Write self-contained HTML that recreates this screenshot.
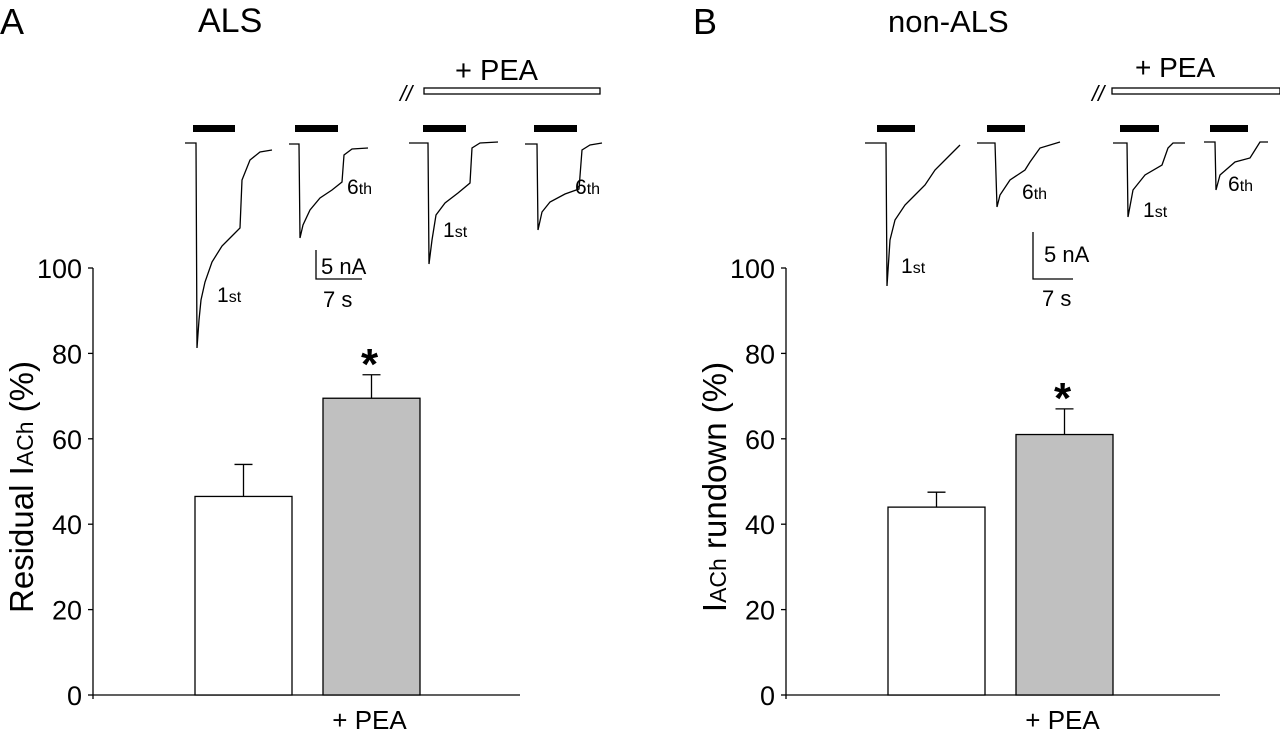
<!DOCTYPE html>
<html><head><meta charset="utf-8"><style>
body{margin:0;background:#fff}
svg{display:block;font-family:"Liberation Sans",Arial,sans-serif}
</style></head><body>
<svg id="fig" width="1280" height="731" viewBox="0 0 1280 731">
<g fill="#000">
<text x="0" y="34" font-size="36">A</text>
<text x="198" y="32" font-size="34">ALS</text>
<text x="693" y="34" font-size="36">B</text>
<text x="888" y="32" font-size="31">non-ALS</text>
</g>
<g id="traces" fill="none" stroke="#000" stroke-width="1.3">
<polyline points="185,143 196,143 197,348 199,320 201,300 205,282 212,262 222,246 232,236 240,228 242,180 250,160 260,152 272,150"/>
<polyline points="289,144 299,144 300,238 303,225 310,210 320,198 332,190 342,182 344,155 352,149 368,148"/>
<polyline points="409,143 428,143 429,264 432,240 436,215 445,203 458,193 470,183 472,148 480,143 498,142"/>
<polyline points="525,144 537,144 538,230 542,212 550,202 565,194 579,189 582,150 590,145 602,143"/>
<polyline points="865,143 886,143 887,286 890,240 895,220 905,205 915,195 925,185 935,170 950,155 960,145"/>
<polyline points="977,143 995,143 997,207 1000,195 1010,180 1025,170 1030,162 1040,148 1060,142"/>
<polyline points="1113,143 1127,143 1128,217 1133,190 1145,175 1162,165 1168,148 1173,143 1185,143"/>
<polyline points="1204,142 1215,142 1216,190 1220,175 1235,162 1250,158 1255,150 1260,142 1268,142"/>
<polyline points="316,250 316,279 362,279"/>
<polyline points="1033,232 1033,279 1073,279"/>
<rect x="424" y="88" width="176" height="6"/>
<rect x="1112" y="88" width="168" height="6"/>
</g>
<g fill="#000">
<rect x="193" y="125" width="42" height="7"/><rect x="295" y="125" width="43" height="7"/>
<rect x="423" y="125" width="43" height="7"/><rect x="534" y="125" width="43" height="7"/>
<rect x="877" y="125" width="38" height="7"/><rect x="987" y="125" width="38" height="7"/>
<rect x="1120" y="125" width="39" height="7"/><rect x="1210" y="125" width="38" height="7"/>
</g>
<g fill="#000" font-size="21">
<text x="400" y="101" font-size="22" font-style="italic">//</text>
<text x="1092" y="101" font-size="22" font-style="italic">//</text>
<text x="455" y="80" font-size="29">+ PEA</text>
<text x="1135" y="77" font-size="28">+ PEA</text>
<text x="217" y="302">1<tspan font-size="16">st</tspan></text>
<text x="347" y="194">6<tspan font-size="16">th</tspan></text>
<text x="443" y="237">1<tspan font-size="16">st</tspan></text>
<text x="575" y="194">6<tspan font-size="16">th</tspan></text>
<text x="901" y="273">1<tspan font-size="16">st</tspan></text>
<text x="1022" y="199">6<tspan font-size="16">th</tspan></text>
<text x="1143" y="217">1<tspan font-size="16">st</tspan></text>
<text x="1228" y="191">6<tspan font-size="16">th</tspan></text>
<text x="321" y="274" font-size="22">5 nA</text>
<text x="323" y="307" font-size="22">7 s</text>
<text x="1044" y="262" font-size="22">5 nA</text>
<text x="1042" y="306" font-size="22">7 s</text>
</g>
<g id="charts"></g>
</svg>
<script>
const categories = ["Control", "+ PEA"];
const alsValues = [46.5, 69.5];
const alsErrors = [7.5, 5.5];
const nonAlsValues = [44, 61];
const nonAlsErrors = [3.5, 6];
const yTicks = [0, 20, 40, 60, 80, 100];
const significant = [false, true];

const NS = "http://www.w3.org/2000/svg";
const root = document.getElementById("charts");
function mk(tag, attrs, parent) {
  const e = document.createElementNS(NS, tag);
  for (const k in attrs) e.setAttribute(k, attrs[k]);
  (parent || root).appendChild(e);
  return e;
}
const y0 = 695, y100 = 268;
function yScale(v) { return y0 - (v / 100) * (y0 - y100); }

function drawPanel(axX, axEnd, values, errors, title, titleParts) {
  const g = mk("g", {});
  
  
  const yAxis = mk("line", {x1: axX, x2: axX, y1: y100, y2: y0 + 4, stroke: "#000", "stroke-width": 1.3}, g);
  
  
  const xAxis = mk("line", {x1: axX, x2: axEnd, y1: y0, y2: y0, stroke: "#000", "stroke-width": 1.3}, g);
  
  
  yTicks.forEach(t => {
    const y = yScale(t);
    const tk = mk("line", {x1: axX - 5, x2: axX, y1: y, y2: y, stroke: "#000", "stroke-width": 1.3}, g);
    
    
    const lb = mk("text", {x: axX - 11, y: y + 10, "font-size": 27, "text-anchor": "end"}, g);
    lb.textContent = t;
    
    
  });
  const barW = 97, x0 = axX + 102, gap = 128;
  values.forEach((v, i) => {
    const x = x0 + i * gap;
    const ye = yScale(v + errors[i]);
    const el = mk("line", {x1: x + barW / 2, x2: x + barW / 2, y1: yScale(v), y2: ye, stroke: "#000", "stroke-width": 1.3}, g);
    
    
    const cap = mk("line", {x1: x + barW / 2 - 9, x2: x + barW / 2 + 9, y1: ye, y2: ye, stroke: "#000", "stroke-width": 1.3}, g);
    
    
    const r = mk("rect", {x: x, y: yScale(v), width: barW, height: y0 - yScale(v), fill: i ? "#c0c0c0" : "#fff", stroke: "#000", "stroke-width": 1.3}, g);
    
    
    if (significant[i]) {
      const s = mk("text", {x: x + barW / 2 - 2, y: ye + 4, "font-size": 44, "font-weight": "bold", "text-anchor": "middle"}, g);
      s.textContent = "*";
      
      
    }
  });
  const xl = mk("text", {x: x0 + gap + barW / 2 - 2, y: 729, "font-size": 26, "text-anchor": "middle"}, g);
  xl.textContent = categories[1];
  
  
  const yt = mk("text", {x: 0, y: 0, "font-size": 33, "text-anchor": "middle", transform: "translate(" + (axX - 60) + ",487) rotate(-90)"}, g);
  titleParts.forEach(p => {
    const ts = mk("tspan", p.small ? {"font-size": 23} : {}, yt);
    ts.textContent = p.t;
  });
  
  
}
drawPanel(93, 520, alsValues, alsErrors, "als", [{t: "Residual I"}, {t: "ACh", small: true}, {t: " (%)"}]);
drawPanel(786, 1220, nonAlsValues, nonAlsErrors, "non-als", [{t: "I"}, {t: "ACh", small: true}, {t: " rundown (%)"}]);
</script>
</body></html>
